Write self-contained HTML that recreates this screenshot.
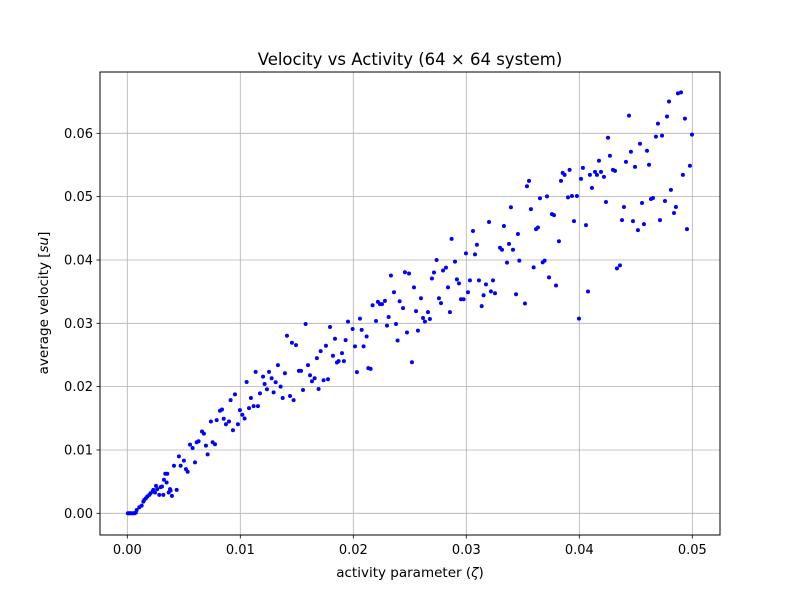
<!DOCTYPE html>
<html><head><meta charset="utf-8"><style>
body{margin:0;background:#fff;}
svg text{font-family:"DejaVu Sans","Liberation Sans",sans-serif;fill:#000;}
</style></head><body>
<svg id="chart" width="800" height="600" viewBox="0 0 800 600" xmlns="http://www.w3.org/2000/svg">
<rect x="0" y="0" width="800" height="600" fill="#fff"/>
<g id="grid"></g>
<g id="points"></g>
<rect x="100" y="72" width="620" height="463" fill="none" stroke="#000" stroke-width="1"/>
<g id="axes"></g>
<text x="410" y="65" font-size="16.5" text-anchor="middle">Velocity vs Activity (64 × 64 system)</text>
<text x="410" y="577" font-size="13.5" text-anchor="middle">activity parameter (<tspan font-style="italic">ζ</tspan>)</text>
<text x="0" y="0" font-size="13.5" text-anchor="middle" transform="translate(48,303) rotate(-90)">average velocity [<tspan font-style="italic">su</tspan>]</text>
</svg>
<script>
// values in units of 0.01
const xTicks = [0, 1, 2, 3, 4, 5];
const xTickLabels = ["0.00", "0.01", "0.02", "0.03", "0.04", "0.05"];
const yTicks = [0, 1, 2, 3, 4, 5, 6];
const yTickLabels = ["0.00", "0.01", "0.02", "0.03", "0.04", "0.05", "0.06"];
const activity = [0.005,0.015,0.025,0.035,0.045,0.055,0.065,0.075,
0.083,0.106,0.127,0.142,0.150,0.165,0.177,0.195,0.206,0.224,0.230,0.245,0.254,0.265,0.283,0.295,0.307,0.319,0.324,0.336,0.354,0.348,0.366,0.378,0.383,0.395,0.413,0.437,0.457,0.472,0.501,0.519,0.534,0.555,0.578,0.599,0.614,0.631,0.661,0.678,0.696,0.711,0.740,0.755,0.776,0.791,0.820,0.838,0.853,0.873,0.900,0.914,0.935,0.953,0.979,0.997,1.018,1.038,1.056,1.077,1.094,1.118,1.136,1.156,1.174,1.201,1.215,1.236,1.254,1.277,1.295,1.313,1.333,1.357,1.375,1.395,1.413,1.440,1.457,1.472,1.493,1.519,1.537,1.555,1.578,1.599,1.617,1.634,1.658,1.678,1.693,1.711,1.737,1.758,1.776,1.794,1.820,1.838,1.855,1.870,1.900,1.917,1.932,1.953,
1.994,2.015,2.032,2.059,2.074,2.091,2.118,2.133,2.153,2.171,2.201,2.218,2.236,2.254,2.280,2.298,2.313,2.333,2.360,2.378,2.392,2.410,2.440,2.457,2.475,2.493,2.519,2.537,2.555,2.572,2.599,2.617,2.634,2.661,2.678,2.696,2.714,2.737,2.758,2.776,2.794,2.820,2.838,2.855,2.870,2.900,2.917,2.935,2.953,2.976,2.997,3.015,3.032,3.059,3.077,3.094,3.112,3.136,3.153,3.174,3.201,3.218,3.236,3.254,3.298,3.316,3.333,3.360,3.378,3.395,3.413,3.440,3.457,3.469,
3.519,3.537,3.555,3.572,3.596,3.617,3.634,3.652,3.676,3.693,3.714,3.732,3.758,3.776,3.794,3.820,3.838,3.853,3.870,3.900,3.914,3.935,3.953,3.979,3.997,4.015,4.032,4.059,4.077,4.094,4.112,4.139,4.156,4.174,4.192,4.218,4.236,4.254,4.271,4.298,4.316,4.333,4.360,4.378,4.395,4.413,4.440,4.457,4.475,4.493,4.519,4.537,4.555,4.572,4.599,4.617,4.634,4.652,4.678,4.696,4.714,4.732,4.758,4.776,4.794,4.811,4.838,4.855,4.873,4.900,4.917,4.935,4.953,4.979,4.997];
const velocity = [0,0,0,0,0,0,0,0.01,
0.053,0.095,0.122,0.185,0.212,0.238,0.265,0.291,0.317,0.344,0.370,0.328,0.434,0.381,0.291,0.413,0.423,0.291,0.529,0.624,0.624,0.487,0.328,0.381,0.360,0.275,0.751,0.370,0.899,0.751,0.831,0.698,0.656,1.085,1.032,0.804,1.122,1.138,1.291,1.259,1.069,0.931,1.450,1.122,1.090,1.471,1.619,1.640,1.492,1.407,1.450,1.788,1.312,1.878,1.407,1.630,1.556,1.497,2.074,1.661,1.820,1.693,2.233,1.693,1.894,2.159,2.042,1.958,2.233,2.132,1.910,2.069,2.339,2.000,1.820,2.212,2.804,1.852,2.693,1.788,2.656,2.249,2.249,1.947,2.989,2.339,2.180,2.085,2.132,2.450,1.963,2.561,2.101,2.646,2.116,2.942,2.487,2.757,2.381,2.402,2.529,2.402,2.735,3.026,
2.911,2.635,2.229,3.073,2.896,2.635,2.792,2.292,2.281,3.286,3.036,3.339,3.302,3.302,3.354,2.964,3.099,3.755,3.490,2.990,2.729,3.349,3.240,3.807,2.854,3.786,2.385,3.568,3.193,2.885,3.396,3.083,3.026,3.177,3.068,3.708,3.802,4.000,3.396,3.318,3.833,3.880,3.568,3.177,4.333,3.974,3.693,3.630,3.380,3.380,4.104,3.490,3.677,4.458,4.089,4.240,3.677,3.271,3.443,3.615,4.599,3.505,3.677,3.474,4.193,4.161,4.536,3.958,4.255,4.833,4.161,3.458,4.411,3.990,
3.312,5.164,5.249,4.804,3.884,4.487,4.513,4.974,3.963,3.989,5.005,3.725,4.725,4.709,3.598,4.296,5.249,5.376,5.344,4.989,5.423,5.011,4.614,5.011,3.074,5.280,5.455,4.550,3.503,5.344,5.138,5.392,5.344,5.566,5.392,5.312,4.915,5.931,5.646,5.423,5.407,3.868,3.915,4.630,4.836,5.550,6.280,5.709,4.614,5.471,4.471,5.836,4.899,4.566,5.725,5.503,4.963,4.979,5.947,6.153,4.630,5.963,4.931,6.265,6.503,5.106,4.741,4.836,6.630,6.646,5.344,6.233,4.487,5.487,5.979];

const NS = "http://www.w3.org/2000/svg";
function xScale(v){ return 127.3 + v * 113; }
function yScale(v){ return 513.3 - v * 63.33; }
function mk(tag, attrs, parent){
  const e = document.createElementNS(NS, tag);
  for (const k in attrs) e.setAttribute(k, attrs[k]);
  parent.appendChild(e);
  return e;
}
const grid = document.getElementById('grid');
const axes = document.getElementById('axes');
const pts = document.getElementById('points');
xTicks.forEach((t, i) => {
  const x = xScale(t);
  const g = mk('line', {x1:x, x2:x, y1:72, y2:535, stroke:'#b0b0b0', 'stroke-width':0.8}, grid);
  
  
  const tk = mk('line', {x1:x, x2:x, y1:535, y2:538.5, stroke:'#000', 'stroke-width':0.8}, axes);
  
  
  const tx = mk('text', {x:x, y:554, 'font-size':13, 'text-anchor':'middle'}, axes);
  tx.textContent = xTickLabels[i];
  
  
});
yTicks.forEach((t, i) => {
  const y = yScale(t);
  const g = mk('line', {x1:100, x2:720, y1:y, y2:y, stroke:'#b0b0b0', 'stroke-width':0.8}, grid);
  
  
  const tk = mk('line', {x1:96.5, x2:100, y1:y, y2:y, stroke:'#000', 'stroke-width':0.8}, axes);
  
  
  const tx = mk('text', {x:93, y:y + 4.5, 'font-size':13, 'text-anchor':'end'}, axes);
  tx.textContent = yTickLabels[i];
  
  
});
activity.forEach((a, i) => {
  const c = mk('circle', {cx:xScale(a), cy:yScale(velocity[i]), r:2, fill:'#0000ff'}, pts);
  
  
});
</script>
</body></html>
